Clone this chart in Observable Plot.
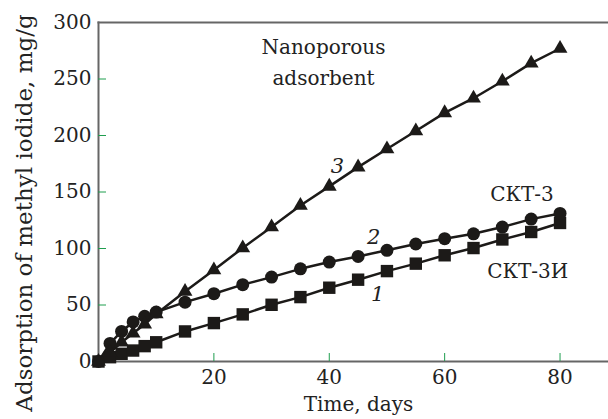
<!DOCTYPE html>
<html>
<head>
<meta charset="utf-8">
<script src="https://cdn.jsdelivr.net/npm/d3@7"></script>
<script src="https://cdn.jsdelivr.net/npm/@observablehq/plot@0.6"></script>
<style>
  html, body { margin: 0; padding: 0; background: white; }
</style>
</head>
<body>
<div id="chart"></div>
<script>
const days = [0, 2, 4, 6, 8, 10, 15, 20, 25, 30, 35, 40, 45, 50, 55, 60, 65, 70, 75, 80];
// curve 1 – СКТ-3И (squares)
const skt3i = [0, 3.8, 6.8, 9.7, 13.6, 17, 26.6, 34, 41.7, 50.2, 57, 65.3, 72.4, 80, 86.6, 94, 100.4, 108, 114.6, 122.6];
// curve 2 – СКТ-3 (circles)
const skt3 = [0, 16, 26.6, 35, 40, 43.7, 52.5, 60, 68, 74.7, 82, 88, 93, 98.4, 104, 108.7, 113, 119, 126, 131];
// curve 3 – nanoporous adsorbent (triangles)
const nano = [0, 8, 17, 25, 33, 42, 62, 81, 100.5, 119, 138, 155, 172, 188, 204, 220, 233, 248, 264, 277];

const xTicks = [20, 40, 60, 80];
const yTicks = [0, 50, 100, 150, 200, 250, 300];

const labels = [
  {x: 39, y: 267, text: "Nanoporous\nadsorbent"},
  {x: 73.4, y: 150.7, text: "СКТ-3"},
  {x: 74.4, y: 82.4, text: "СКТ-3И"}
];
const numbers = [
  {x: 41.4, y: 172.9, text: "3"},
  {x: 47.7, y: 110, text: "2"},
  {x: 48.4, y: 59.4, text: "1"}
];

const mk = (vals) => days.map((d, i) => ({day: d, value: vals[i]}));
const s1 = mk(skt3i), s2 = mk(skt3), s3 = mk(nano);

const ink = "#1c1a18";
const frameCol = "#666";
const tickCol = "#1f9e4f";

const chart = Plot.plot({
  width: 608,
  height: 419,
  marginLeft: 98,
  marginTop: 22,
  marginBottom: 58,
  marginRight: 0,
  x: {domain: [0, 88.4]},
  y: {domain: [0, 300]},
  style: {fontFamily: "DejaVu Serif", fontSize: "20px", color: "#222", background: "white"},
  marks: [
    Plot.frame({anchor: "top", stroke: frameCol, strokeWidth: 2}),
    Plot.frame({anchor: "left", stroke: frameCol, strokeWidth: 2}),
    Plot.frame({anchor: "bottom", stroke: frameCol, strokeWidth: 2}),
    Plot.axisX({ticks: xTicks, tickSize: 8, dy: -8, stroke: tickCol, tickFormat: () => "", label: null}),
    Plot.axisY({ticks: yTicks.filter(t => t > 0 && t < 300), tickSize: 8, dx: 8, stroke: tickCol, tickFormat: () => "", label: null}),
    Plot.axisX({ticks: xTicks, tickSize: 0, tickPadding: 8, label: null, fill: "#222"}),
    Plot.axisY({ticks: yTicks, tickSize: 0, tickPadding: 7, label: null, fill: "#222"}),
    Plot.text(["Time, days"], {frameAnchor: "bottom", lineAnchor: "bottom", dx: 5, dy: 49, text: d => d, fontSize: 20, fill: "#222"}),
    Plot.text(["Adsorption of methyl iodide, mg/g"], {frameAnchor: "left", textAnchor: "middle", rotate: -90, dx: -74, dy: 21, text: d => d, fontSize: 23, fill: "#222"}),
    Plot.line(s1, {x: "day", y: "value", stroke: ink, strokeWidth: 2.5}),
    Plot.line(s2, {x: "day", y: "value", stroke: ink, strokeWidth: 2.5}),
    Plot.line(s3, {x: "day", y: "value", stroke: ink, strokeWidth: 2.5}),
    Plot.dot(s1, {x: "day", y: "value", symbol: "square", r: 7, fill: ink}),
    Plot.dot(s2, {x: "day", y: "value", symbol: "circle", r: 6.5, fill: ink}),
    Plot.dot(s3, {x: "day", y: "value", symbol: "triangle", r: 5.5, fill: ink}),
    Plot.text(labels, {x: "x", y: "y", text: "text", fontSize: 20, lineHeight: 1.55, fill: "#222"}),
    Plot.text(numbers, {x: "x", y: "y", text: "text", fontSize: 21, fontStyle: "italic", fill: "#222"})
  ]
});
document.getElementById("chart").appendChild(chart);
</script>
</body>
</html>
